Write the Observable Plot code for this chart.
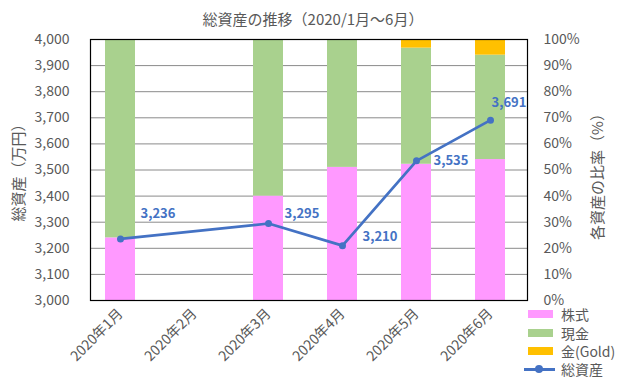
<!DOCTYPE html>
<html><head><meta charset="utf-8">
<script src="https://cdn.jsdelivr.net/npm/d3@7"></script>
<script src="https://cdn.jsdelivr.net/npm/@observablehq/plot@0.6"></script>
<style>
body{margin:0;background:#fff;}
#wrap{position:relative;width:619px;height:379px;font-family:"Noto Sans CJK JP","Noto Sans",sans-serif;color:#595959;overflow:hidden;}
#chart{position:absolute;left:0;top:0;}
.title{position:absolute;left:0;top:10px;width:626px;text-align:center;font-size:15px;line-height:18px;}
.ylab{position:absolute;font-size:15px;line-height:16px;white-space:nowrap;transform:translate(-50%,-50%) rotate(-90deg);}
#legend{position:absolute;left:524px;top:305px;font-size:14px;}
.row{display:flex;align-items:center;height:18.4px;}
.row .t{line-height:14px;height:14px;}
.sw{width:25px;height:8px;margin-left:4px;margin-right:8px;flex:none;}
.ln{position:relative;width:31px;height:3px;background:#4472C4;margin-right:6px;flex:none;}
.ln::after{content:"";position:absolute;left:11px;top:-2.5px;width:8px;height:8px;border-radius:50%;background:#4472C4;}
</style></head>
<body>
<div id="wrap">
  <div id="chart"></div>
  <div class="title">総資産の推移（2020/1月～6月）</div>
  <div class="ylab" style="left:18px;top:169px;">総資産（万円）</div>
  <div class="ylab" style="left:597px;top:173px;">各資産の比率（%）</div>
  <div id="legend"></div>
</div>
<script>
const months = ["2020年1月","2020年2月","2020年3月","2020年4月","2020年5月","2020年6月"];
const series = ["株式","現金","金(Gold)"];
const colors = ["#FF99FF","#A9D18E","#FFC000"];
const stockPct = [24, null, 40, 51, 52.2, 54];
const cashPct  = [76, null, 60, 49, 44.5, 40];
const goldPct  = [0, null, 0, 0, 3.3, 6];
const totals   = [3236, null, 3295, 3210, 3535, 3691];
const leftTicks = [3000,3100,3200,3300,3400,3500,3600,3700,3800,3900,4000];
const rightTicks = [0,10,20,30,40,50,60,70,80,90,100];
const lineName = "総資産";
const lineColor = "#4472C4";

const pctSeries = [stockPct, cashPct, goldPct];
const bars = [];
months.forEach((m, i) => {
  series.forEach((s, j) => {
    const v = pctSeries[j][i];
    if (v != null && v > 0) bars.push({month: m, series: s, value: v});
  });
});
const lineData = months.map((m, i) => ({month: m, total: totals[i]})).filter(d => d.total != null);
// total assets (3,000–4,000 万円) share the plot's vertical scale with the 0–100% axis
const toPct = v => (v - 3000) / 10;
const fmt = d3.format(",");

const labelStyle = {fill: lineColor, fontWeight: "bold", fontSize: 13, textAnchor: "start"};
const lbl = (m, dx, dy) => Plot.text(lineData.filter(d => d.month === m),
  {x: "month", y: d => toPct(d.total), text: d => fmt(d.total), dx, dy, ...labelStyle});

const chart = Plot.plot({
  width: 619, height: 379,
  marginLeft: 90, marginRight: 92, marginTop: 39, marginBottom: 79,
  style: {fontFamily: '"Noto Sans CJK JP","Noto Sans",sans-serif', fontSize: "14px", color: "#595959", background: "#fff"},
  x: {domain: months, range: [83, 527], paddingInner: 0.5946, paddingOuter: 0.2973, align: 0.5},
  y: {domain: [0, 100]},
  color: {domain: series, range: colors},
  marks: [
    Plot.ruleY(rightTicks.slice(1, -1), {stroke: "#8a8a8a", strokeWidth: 1}),
    Plot.barY(bars, {x: "month", y: "value", fill: "series", order: series}),
    Plot.line(lineData, {x: "month", y: d => toPct(d.total), stroke: lineColor, strokeWidth: 2.75}),
    Plot.dot(lineData, {x: "month", y: d => toPct(d.total), fill: lineColor, r: 3.5}),
    lbl("2020年1月", 20, -25),
    lbl("2020年3月", 16, -10),
    lbl("2020年4月", 20, -9),
    lbl("2020年5月", 17, 0),
    lbl("2020年6月", 1, -17),
    Plot.frame({stroke: "#000", strokeWidth: 1.2}),
    Plot.axisY(leftTicks.map(toPct), {anchor: "left", tickSize: 0, tickPadding: 21, label: null,
      tickFormat: d => fmt(3000 + d * 10), fill: "#595959", fontSize: 14}),
    Plot.axisY(rightTicks, {anchor: "right", tickSize: 0, tickPadding: 16, label: null,
      tickFormat: d => d + "%", fill: "#595959", fontSize: 14}),
    Plot.axisX({anchor: "bottom", tickSize: 0, tickPadding: 11, tickRotate: -45, label: null,
      fontSize: 14, fill: "#595959"})
  ]
});
document.getElementById("chart").appendChild(chart);

const legend = document.getElementById("legend");
series.forEach((s, j) => {
  const r = document.createElement("div"); r.className = "row";
  r.innerHTML = `<div class="sw" style="background:${colors[j]}"></div><div class="t">${s}</div>`;
  legend.appendChild(r);
});
const r = document.createElement("div"); r.className = "row";
r.innerHTML = `<div class="ln"></div><div class="t">${lineName}</div>`;
legend.appendChild(r);
</script>
</body></html>
